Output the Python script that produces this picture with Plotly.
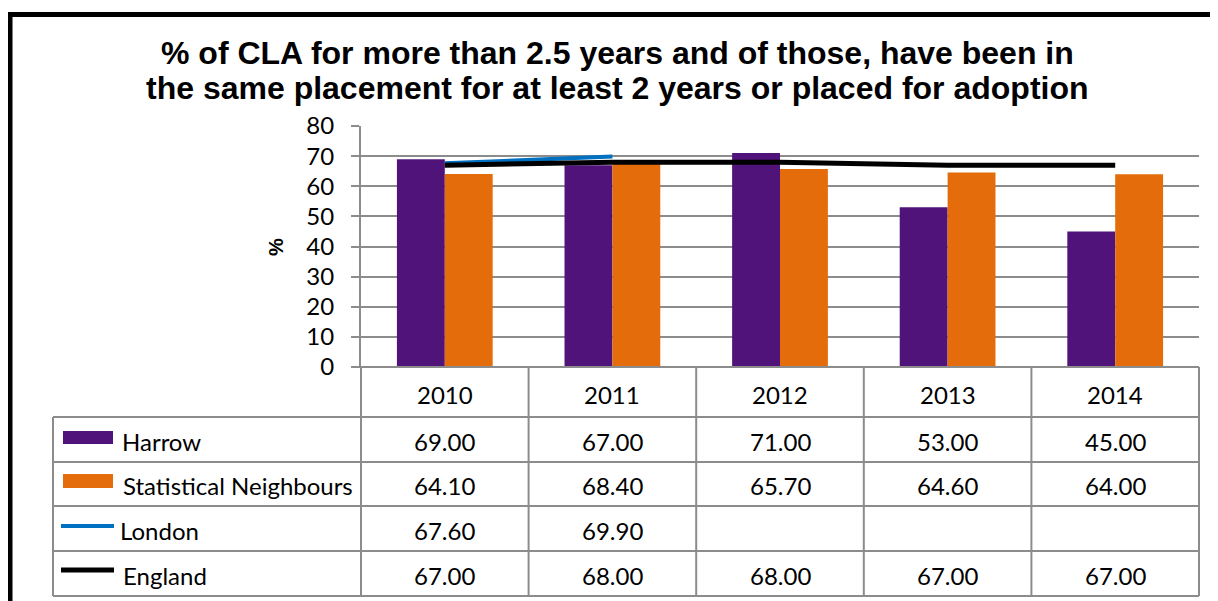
import plotly.graph_objects as go

# ---------------- data ----------------
years = ["2010", "2011", "2012", "2013", "2014"]
harrow = [69.00, 67.00, 71.00, 53.00, 45.00]
stat_neighbours = [64.10, 68.40, 65.70, 64.60, 64.00]
london = [67.60, 69.90, None, None, None]
england = [67.00, 68.00, 68.00, 67.00, 67.00]
series_names = ["Harrow", "Statistical Neighbours", "London", "England"]
title_lines = ["% of CLA for more than 2.5 years and of those, have been in",
               "the same placement for at least 2 years or placed for adoption"]
y_title = "%"

# ---------------- styles ----------------
OFF = 8                      # default page body margin
W, H = 1218, 601             # window size
L, T = 361, 126              # plot area top-left (screen px)
PW, PH = 838, 241            # plot area size
PURPLE = "#50137A"
ORANGE = "#E46C0A"
BLUE = "#0070C0"
BLACK = "#000000"
GRID = "#8C8C8C"
TXT_FONT = dict(family="Lato, Open Sans, sans-serif", size=24, color="black")
TITLE_FONT = dict(family="Liberation Sans, Arial, sans-serif", size=32, color="black")


def px_x(p):
    return (p - L) / PW


def px_y(p):
    return (T + PH - p) / PH


fig = go.Figure()
fig.add_trace(go.Bar(x=years, y=harrow, name=series_names[0], marker=dict(color=PURPLE, line=dict(width=0))))
fig.add_trace(go.Bar(x=years, y=stat_neighbours, name=series_names[1], marker=dict(color=ORANGE, line=dict(width=0))))
fig.add_trace(go.Scatter(x=years, y=london, name=series_names[2], mode="lines",
                         line=dict(color=BLUE, width=4), connectgaps=False))
fig.add_trace(go.Scatter(x=years, y=england, name=series_names[3], mode="lines",
                         line=dict(color=BLACK, width=5)))

shapes = []
annotations = []

# outer chart frame
shapes.append(dict(type="rect", xref="paper", yref="paper",
                   x0=px_x(10), x1=px_x(1240), y0=px_y(640), y1=px_y(14.5),
                   line=dict(color="black", width=5), layer="above"))

# data table grid
row_edges = [367, 417, 462, 506, 551, 596]
n = len(years)
col_edges = [k / n for k in range(n + 1)]
left_edge = px_x(53)
for i, ry in enumerate(row_edges):
    x0 = left_edge if i >= 1 else px_x(353)
    shapes.append(dict(type="line", xref="paper", yref="paper", x0=x0, x1=1,
                       y0=px_y(ry), y1=px_y(ry), line=dict(color=GRID, width=2), layer="above"))
for cx in col_edges:
    shapes.append(dict(type="line", xref="paper", yref="paper", x0=cx, x1=cx,
                       y0=px_y(367), y1=px_y(596), line=dict(color=GRID, width=2), layer="above"))
shapes.append(dict(type="line", xref="paper", yref="paper", x0=left_edge, x1=left_edge,
                   y0=px_y(417), y1=px_y(596), line=dict(color=GRID, width=2), layer="above"))

# header (years) - category serial numbers on the x axis
hdr_c = (row_edges[0] + row_edges[1]) / 2 + 2
for i, yr in enumerate(years):
    annotations.append(dict(x=i, xref="x", y=px_y(hdr_c), yref="paper", text=yr,
                            showarrow=False, font=TXT_FONT, xanchor="center", yanchor="middle"))

# rows
all_series = [harrow, stat_neighbours, london, england]
for r, vals in enumerate(all_series):
    cy = (row_edges[r + 1] + row_edges[r + 2]) / 2 + 1.5
    for i, v in enumerate(vals):
        if v is None:
            continue
        annotations.append(dict(x=i, xref="x", y=px_y(cy), yref="paper", text=f"{v:.2f}",
                                showarrow=False, font=TXT_FONT, xanchor="center", yanchor="middle"))

# legend keys + names in first column
key_specs = [
    ("rect", PURPLE, 431, 444, 120),
    ("rect", ORANGE, 474, 488, 121),
    ("line", BLUE, 526, 4, 118),
    ("line", BLACK, 570, 5, 121),
]
for r, (kind, col, a, b, tx) in enumerate(key_specs):
    if kind == "rect":
        shapes.append(dict(type="rect", xref="paper", yref="paper", x0=px_x(63), x1=px_x(113),
                           y0=px_y(b), y1=px_y(a), fillcolor=col, line=dict(width=0), layer="above"))
    else:
        shapes.append(dict(type="line", xref="paper", yref="paper", x0=px_x(61), x1=px_x(114),
                           y0=px_y(a), y1=px_y(a), line=dict(color=col, width=b), layer="above"))
    cy = (row_edges[r + 1] + row_edges[r + 2]) / 2 + 1.5
    annotations.append(dict(x=px_x(tx), xref="paper", y=px_y(cy), yref="paper", text=series_names[r],
                            showarrow=False, font=TXT_FONT, xanchor="left", yanchor="middle"))

# title (two lines)
for line_txt, cy in zip(title_lines, [52.6, 87.6]):
    annotations.append(dict(x=px_x(617.5), xref="paper", y=px_y(cy), yref="paper",
                            text=f"<b>{line_txt}</b>", showarrow=False, font=TITLE_FONT,
                            xanchor="center", yanchor="middle"))

# y-axis title
annotations.append(dict(x=px_x(276), xref="paper", y=px_y(247), yref="paper", text=f"<b>{y_title}</b>",
                        textangle=-90, showarrow=False,
                        font=dict(family="Liberation Sans, Arial, sans-serif", size=20, color="black"),
                        xanchor="center", yanchor="middle"))

fig.update_layout(
    width=W - OFF, height=H - OFF,
    margin=dict(l=L - OFF, r=(W - OFF) - (L - OFF) - PW, t=T - OFF, b=(H - OFF) - (T - OFF) - PH, pad=0),
    paper_bgcolor="white", plot_bgcolor="white",
    barmode="group", bargap=0.4286, bargroupgap=0,
    showlegend=False,
    shapes=shapes, annotations=annotations,
    xaxis=dict(type="category", range=[-0.5, len(years) - 0.5], showticklabels=False, ticks="",
               showgrid=False, showline=False, zeroline=False),
    yaxis=dict(range=[0, 80], dtick=10, tickmode="linear", showgrid=True, gridcolor=GRID, gridwidth=2,
               ticks="outside", ticklen=8, tickcolor=GRID, tickwidth=2,
               showline=True, linecolor=GRID, linewidth=2, zeroline=False,
               tickfont=TXT_FONT, ticklabelstandoff=12),
)

fig.write_html("out.html")
